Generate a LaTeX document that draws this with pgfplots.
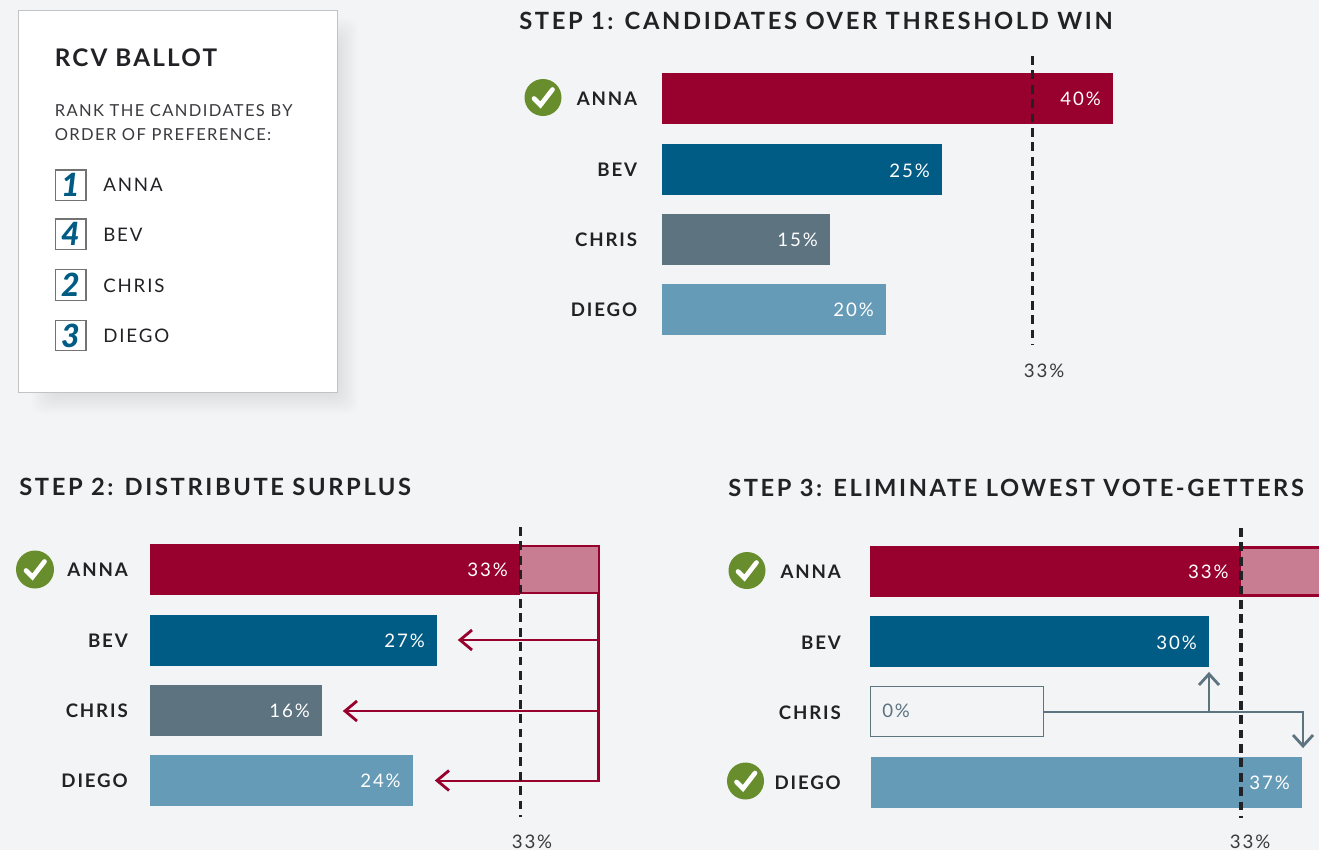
\documentclass[border=0pt]{standalone}
\usepackage{pgfplots}
\pgfplotsset{compat=1.18}
\usepackage{fontspec}
\setmainfont{Lato}
\newfontfamily\headf[LetterSpace=11]{Lato}
\newfontfamily\titlef[LetterSpace=9]{Lato}
\newfontfamily\cardf[LetterSpace=8.3]{Lato}
\newfontfamily\namef[LetterSpace=10]{Lato}
\newfontfamily\catf[LetterSpace=10]{Lato}
\newfontfamily\valf[LetterSpace=10]{Lato}
\definecolor{bg}{HTML}{F2F4F6}
\definecolor{crim}{HTML}{98002E}
\definecolor{crimL}{HTML}{C97D92}
\definecolor{blu}{HTML}{005B85}
\definecolor{slate}{HTML}{5D7380}
\definecolor{lblu}{HTML}{669BB7}
\definecolor{grn}{HTML}{678D2C}
\definecolor{ink}{HTML}{222226}
\definecolor{ink2}{HTML}{3A3A3E}
\pgfplotsset{
  hbar/.style={xbar,bar width=38.25pt,bar shift=0pt,draw=none,fill=#1,
     point meta=explicit symbolic,nodes near coords,
     nodes near coords style={anchor=base east,xshift=-9pt,yshift=-5.6pt,inner sep=0pt,text=white,font=\fontsize{14}{16}\valf}},
  stepax/.style={scale only axis,width=336pt,xmin=0,xmax=40,y dir=reverse,clip=false,
     axis line style={draw=none},tick style={draw=none},anchor=north west,
     ytick={0,1,2,3},yticklabels={ANNA,BEV,CHRIS,DIEGO},
     xtick={33.04},xticklabels={33\%},
     yticklabel style={anchor=base east,inner sep=0pt,yshift=-5.5pt,font=\fontsize{14}{16}\catf\bfseries,text=ink},
     xticklabel style={inner sep=0pt,font=\fontsize{14}{16}\valf,text=ink2,yshift=-13pt}},
  dashline/.style={sharp plot,no marks,draw=ink,line width=2.3pt,dash pattern=on 6.6pt off 4.2pt},
}
\usetikzlibrary{calc}
\newcommand{\chk}[3]{% x,y,r in px
  \fill[grn] (#1,-#2) circle (#3);
  \draw[white,line width=3.5pt,line cap=round,line join=miter]
    ($(#1,-#2)+(-9,-1)$) -- ($(#1,-#2)+(-2.5,-7.5)$) -- ($(#1,-#2)+(9.5,8)$);}
\begin{document}
\begin{tikzpicture}[x=0.75pt,y=0.75pt]
\useasboundingbox (0,0) rectangle (1319,-850);
\clip (0,0) rectangle (1319,-850);
\fill[bg] (0,0) rectangle (1319,-850);
% card shadow
\foreach \d in {0,2,...,20}{
  \fill[black,opacity=0.0085,rounded corners=8pt] (32+\d,-18-\d) rectangle (358-\d,-414+\d);
}
\filldraw[fill=white,draw=black!20!bg,line width=0.9pt] (18.5,-10.5) rectangle (337.5,-392.5);
% card text
\node[anchor=base west,inner sep=0pt,text=ink,font=\fontsize{18.2}{20}\titlef\bfseries] at (54.5,-66) {RCV BALLOT};
\node[anchor=base west,inner sep=0pt,text=ink2,font=\fontsize{12.4}{16}\cardf] at (54.5,-116) {RANK THE CANDIDATES BY};
\node[anchor=base west,inner sep=0pt,text=ink2,font=\fontsize{12.4}{16}\cardf] at (54.5,-140) {ORDER OF PREFERENCE:};
\foreach \t/\yy/\b/\n in {ANNA/185.3/191.5/1,BEV/234.3/241.5/4,CHRIS/285/292.3/2,DIEGO/335.5/342.5/3}{
  \draw[draw=black!55,line width=0.9pt] (55.5,-\yy+15.3) rectangle (86,-\yy-15.3);
  \node[inner sep=0pt,text=blu,font=\fontsize{24}{24}\selectfont\fontspec{Lato Black Italic}] at (70.5,-\yy) {\n};
  \node[anchor=base west,inner sep=0pt,text=ink,font=\fontsize{14}{16}\namef] at (103,-\b) {\t};
}
% headings
\node[anchor=base west,inner sep=0pt,text=ink,font=\fontsize{17.8}{20}\headf\bfseries] at (519,-29) {STEP 1: CANDIDATES OVER THRESHOLD WIN};
\node[anchor=base west,inner sep=0pt,text=ink,font=\fontsize{17.8}{20}\headf\bfseries] at (19,-495) {STEP 2: DISTRIBUTE SURPLUS};
\node[anchor=base west,inner sep=0pt,text=ink,font=\fontsize{17.75}{20}\headf\bfseries] at (728,-496) {STEP 3: ELIMINATE LOWEST VOTE-GETTERS};
% step 2 arrows
\begin{scope}[crim,line width=2.1pt,line join=miter,line cap=butt]
 \draw (598.5,-594) -- (598.5,-781) -- (438,-781);
 \draw (598.5,-640) -- (461,-640);
 \draw (598.5,-711) -- (346,-711);
 \draw (472,-630) -- (460,-640) -- (472,-650);
 \draw (357,-701) -- (345,-711) -- (357,-721);
 \draw (449,-770.5) -- (437,-780.5) -- (449,-790.5);
\end{scope}
% step 3 arrows
\begin{scope}[slate,line width=2.1pt]
 \draw (1043,-712) -- (1303,-712) -- (1303,-745);
 \draw (1209,-712) -- (1209,-675);
 \draw (1199,-685) -- (1209,-674) -- (1219,-685);
 \draw (1293,-735) -- (1303,-746) -- (1313,-735);
\end{scope}
% step 1
\begin{axis}[stepax,at={(496.5pt,-42pt)},height=216.75pt,ymin=-0.604,ymax=3.505,
   yticklabel style={xshift=-18.5pt},xticklabel style={xshift=9pt,yshift=-0.75pt}]
 \addplot[hbar=crim] coordinates {(40.27,0)[40\%]};
 \addplot[hbar=blu] coordinates {(25,1.012)[25\%]};
 \addplot[hbar=slate] coordinates {(15,2)[15\%]};
 \addplot[hbar=lblu] coordinates {(20,3)[20\%]};
 \addplot[dashline] coordinates {(33.04,-0.604)(33.04,3.505)};
\end{axis}
% step 2
\begin{axis}[stepax,at={(112.5pt,-395.25pt)},height=217.5pt,ymin=-0.604,ymax=3.52,
   yticklabel style={xshift=-16.5pt},xticklabel style={xshift=9pt}]
 \addplot[xbar,bar width=35.2pt,bar shift=0pt,fill=crimL,draw=crim,line width=1.9pt,xshift=0.9pt] coordinates {(40,0)};
 \addplot[hbar=crim] coordinates {(33.04,0)[33\%]};
 \addplot[hbar=blu] coordinates {(25.63,1.01)[27\%]};
 \addplot[hbar=slate] coordinates {(15.36,2)[16\%]};
 \addplot[hbar=lblu] coordinates {(23.48,3)[24\%]};
 \addplot[dashline] coordinates {(33.04,-0.604)(33.04,3.52)};
\end{axis}
% step 3
\begin{axis}[stepax,at={(652.5pt,-396pt)},height=217.5pt,ymin=-0.618,ymax=3.505,
   yticklabel style={xshift=-21.7pt},xticklabel style={xshift=7.5pt,yshift=0.75pt}]
 \addplot[xbar,bar width=36pt,bar shift=0pt,fill=crimL,draw=crim,line width=1.9pt,xshift=0.9pt] coordinates {(40.5,0)};
 \addplot[hbar=crim] coordinates {(33.1,0)[33\%]};
 \addplot[hbar=blu] coordinates {(30.27,1)[30\%]};
 \addplot[xbar,bar width=37.5pt,bar shift=0pt,fill=bg,draw=slate,line width=0.8pt,xshift=0.375pt,yshift=0.5pt] coordinates {(15.42,2)};
 \node[anchor=base west,inner sep=0pt,text=slate,font=\fontsize{14}{16}\valf,xshift=9pt,yshift=-4.2pt] at (axis cs:0,2) {0\%};
 \addplot[hbar=lblu,xshift=0.75pt] coordinates {(38.48,3)[37\%]};
 \addplot[dashline] coordinates {(33.125,-0.618)(33.125,3.505)};
\end{axis}
% checks
\chk{543}{97.5}{18.5}
\chk{35}{569.5}{19}
\chk{747}{570.5}{18.5}
\chk{745.5}{781}{18.5}
\end{tikzpicture}
\end{document}
